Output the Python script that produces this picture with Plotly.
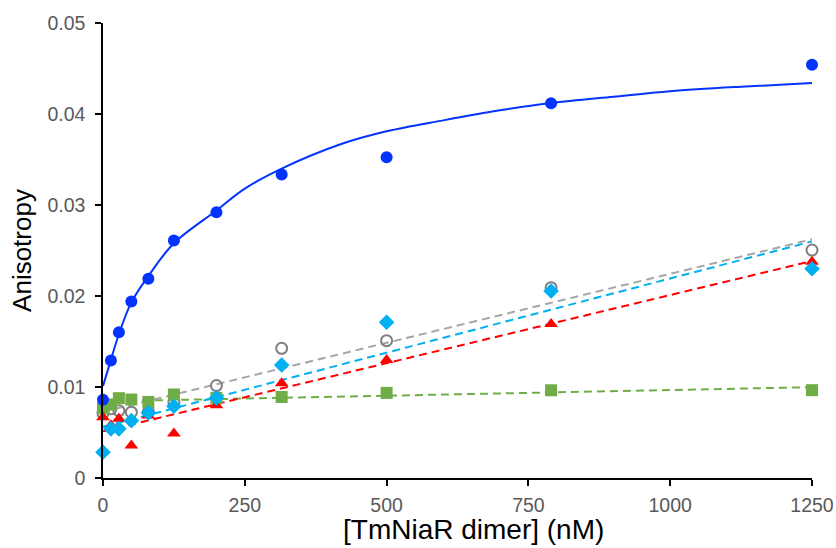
import plotly.graph_objects as go

# Concentrations (nM)
conc = [0, 14, 28, 50, 80, 125, 200, 315, 500, 790, 1250]

blue_vals = [0.00859, 0.01291, 0.01602, 0.01940, 0.02189, 0.02610, 0.02921, 0.03335, 0.03525, 0.04119, 0.04541]
grey_vals = [0.00712, 0.0076, 0.0074, 0.00723, 0.0073, 0.0083, 0.01016, 0.01425, 0.01509, 0.02092, 0.02505]
red_vals = [0.00668, 0.0058, 0.0065, 0.00357, 0.00687, 0.00489, 0.0080, 0.01040, 0.01297, 0.01692, 0.02377]
cyan_vals = [0.00284, 0.0054, 0.0054, 0.0063, 0.00716, 0.00789, 0.0088, 0.01242, 0.01711, 0.02055, 0.0230]
green_vals = [0.00767, 0.00808, 0.00877, 0.00862, 0.00836, 0.00918, 0.00880, 0.00890, 0.00935, 0.00964, 0.00965]

# Binding curve
curve_x = [0, 14, 28, 50, 80, 125, 200, 250, 315, 420, 500, 600, 700, 790, 900, 1000, 1125, 1250]
curve_y = [0.0101, 0.0130, 0.0158, 0.0193, 0.0222, 0.0258, 0.0294, 0.0318, 0.0340, 0.0367,
           0.0381, 0.0393, 0.0404, 0.0412, 0.0419, 0.0425, 0.0430, 0.0434]

# Linear fits (end points)
fit_x = [0, 1250]
grey_fit = [0.00727, 0.02623]
cyan_fit = [0.00562, 0.0260]
red_fit = [0.00513, 0.02385]
green_fit = [0.00842, 0.00998]

x_ticks = [0, 250, 500, 750, 1000, 1250]
y_ticks = [0, 0.01, 0.02, 0.03, 0.04, 0.05]
y_tick_text = ["0", "0.01", "0.02", "0.03", "0.04", "0.05"]
x_title = "[TmNiaR dimer] (nM)"
y_title = "Anisotropy"

BLUE = "#0433FF"
GREY_M = "#7F7F7F"
GREY_L = "#A6A6A6"
RED = "#FF0000"
CYAN = "#00B0F0"
GREEN = "#70AD47"
DASH = "8px,5px"

fig = go.Figure()

# fit lines
fig.add_trace(go.Scatter(x=fit_x, y=green_fit, mode="lines",
                         line=dict(color=GREEN, width=2, dash=DASH), cliponaxis=False))
fig.add_trace(go.Scatter(x=fit_x, y=red_fit, mode="lines",
                         line=dict(color=RED, width=2, dash=DASH), cliponaxis=False))
fig.add_trace(go.Scatter(x=fit_x, y=cyan_fit, mode="lines",
                         line=dict(color=CYAN, width=2, dash=DASH), cliponaxis=False))
fig.add_trace(go.Scatter(x=fit_x, y=grey_fit, mode="lines",
                         line=dict(color=GREY_L, width=2, dash=DASH), cliponaxis=False))
fig.add_trace(go.Scatter(x=curve_x, y=curve_y, mode="lines",
                         line=dict(color=BLUE, width=2, shape="spline", smoothing=1.0), cliponaxis=False))

# markers
fig.add_trace(go.Scatter(x=conc, y=grey_vals, mode="markers",
                         marker=dict(symbol="circle-open", size=11, color=GREY_M, line=dict(width=2, color=GREY_M)),
                         cliponaxis=False))
fig.add_trace(go.Scatter(x=conc, y=green_vals, mode="markers",
                         marker=dict(symbol="square", size=12, color=GREEN), cliponaxis=False))
fig.add_trace(go.Scatter(x=conc, y=red_vals, mode="markers",
                         marker=dict(symbol="triangle-up", size=12, color=RED), cliponaxis=False))
fig.add_trace(go.Scatter(x=conc, y=cyan_vals, mode="markers",
                         marker=dict(symbol="diamond", size=12, color=CYAN), cliponaxis=False))
fig.add_trace(go.Scatter(x=conc, y=blue_vals, mode="markers",
                         marker=dict(symbol="circle", size=12, color=BLUE), cliponaxis=False))

FONT = "Liberation Sans, Arial, sans-serif"
tick_font = dict(family=FONT, size=19.5, color="#595959")

fig.update_layout(
    width=836, height=548,
    margin=dict(l=103, r=24, t=23, b=70),
    paper_bgcolor="white", plot_bgcolor="white",
    showlegend=False,
    xaxis=dict(range=[0, 1250], tickvals=x_ticks, ticks="outside", ticklen=6, tickwidth=1.5,
               tickcolor="black", showline=True, linecolor="black", linewidth=1.5,
               showgrid=False, zeroline=False, tickfont=tick_font, automargin=False,
               ticklabelstandoff=3),
    yaxis=dict(range=[0, 0.05], tickvals=y_ticks, ticktext=y_tick_text, ticks="outside", ticklen=6,
               tickwidth=1.5, tickcolor="black", showline=True, linecolor="black", linewidth=1.5,
               showgrid=False, zeroline=False, tickfont=tick_font, automargin=False,
               ticklabelstandoff=6,
               title=dict(text=y_title, font=dict(family=FONT, size=26, color="black"),
                          standoff=8)),
    annotations=[dict(text=x_title, xref="paper", yref="paper", x=0.522, y=-0.114,
                      xanchor="center", yanchor="middle", showarrow=False,
                      font=dict(family=FONT, size=28, color="black"))],
)

fig.write_html("out.html")
